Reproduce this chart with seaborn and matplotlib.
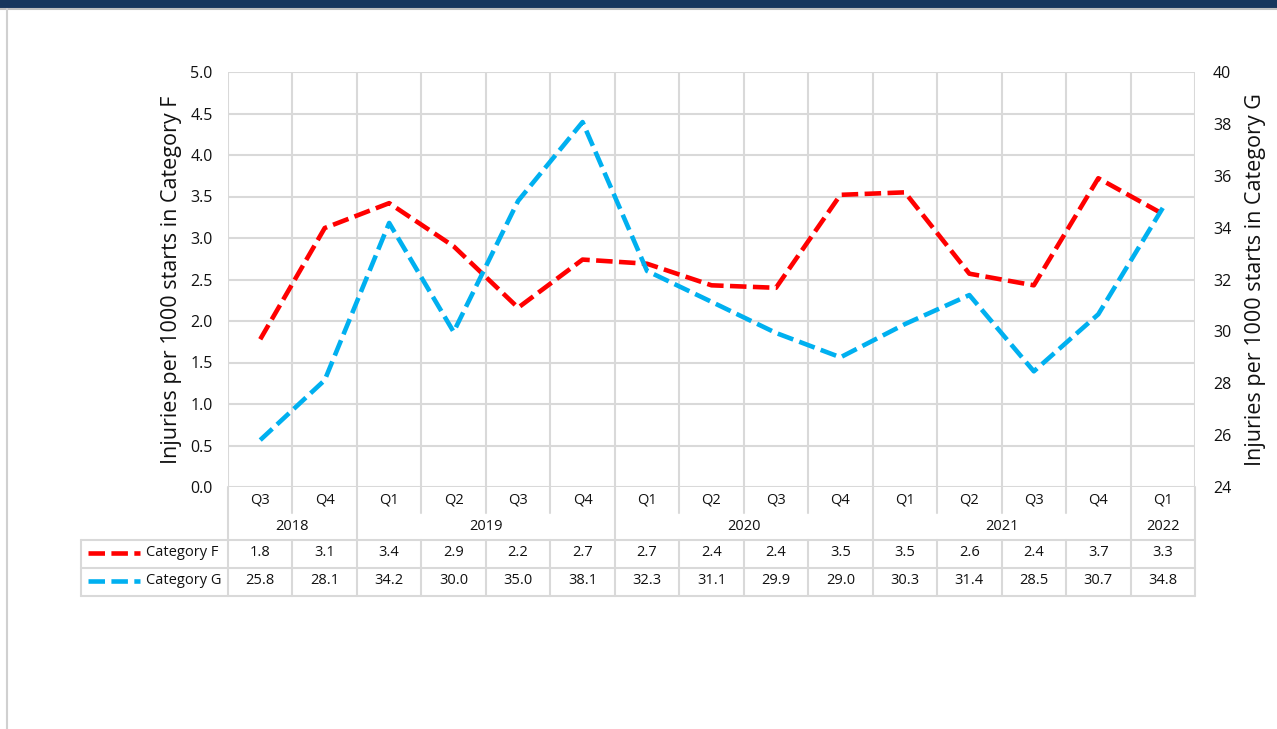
import numpy as np
import pandas as pd
import seaborn as sns
import matplotlib.pyplot as plt
from matplotlib.patches import Rectangle

# quarters / years along the x axis
quarters = ["Q3", "Q4", "Q1", "Q2", "Q3", "Q4", "Q1", "Q2", "Q3", "Q4", "Q1", "Q2", "Q3", "Q4", "Q1"]
years = ["2018", "2018", "2019", "2019", "2019", "2019", "2020", "2020", "2020", "2020",
         "2021", "2021", "2021", "2021", "2022"]

# injuries per 1000 starts
cat_f = [1.78, 3.12, 3.42, 2.90, 2.16, 2.74, 2.69, 2.43, 2.40, 3.52, 3.55, 2.57, 2.43, 3.72, 3.29]
cat_g = [25.81, 28.12, 34.18, 29.98, 35.03, 38.07, 32.33, 31.14, 29.94, 29.00, 30.28, 31.40, 28.46, 30.66, 34.76]

left_ticks = np.arange(0, 5.01, 0.5)
right_ticks = np.arange(24, 40.1, 2)

RED = "#FF0000"
BLUE = "#00B0F0"
GRID = "#D9D9D9"
TXT = "#111111"
DASH = (0, (3.6, 1.4))

sns.set_style("white")
plt.rcParams["font.family"] = ["Open Sans", "DejaVu Sans"]

W, H = 1277, 729
fig = plt.figure(figsize=(W / 100, H / 100), dpi=100)

df = pd.DataFrame({"pos": np.arange(len(quarters)), "F": cat_f, "G": cat_g})
n = len(quarters)

# plot area in pixels
px0, px1, py0, py1 = 228, 1195, 72, 487
ax = fig.add_axes([px0 / W, 1 - py1 / H, (px1 - px0) / W, (py1 - py0) / H])
ax2 = ax.twinx()

sns.lineplot(data=df, x="pos", y="F", ax=ax, color=RED, lw=3.3, linestyle=DASH,
             dash_capstyle="butt", zorder=3)
sns.lineplot(data=df, x="pos", y="G", ax=ax2, color=BLUE, lw=3.3, linestyle=DASH,
             dash_capstyle="butt", zorder=3)

ax.set_xlim(-0.5, n - 0.5)
ax.set_ylim(0, 5)
ax2.set_ylim(24, 40)
ax.set_yticks(left_ticks)
ax.set_yticklabels([f"{v:.1f}" for v in left_ticks], fontsize=11.5, color=TXT)
ax2.set_yticks(right_ticks)
ax2.set_yticklabels([f"{v:.0f}" for v in right_ticks], fontsize=11.5, color=TXT)
ax.set_xticks([])
ax.set_xlabel("")
ax2.set_xlabel("")
ax.set_ylabel("Injuries per 1000 starts in Category F", fontsize=15.5, labelpad=6, color=TXT)
ax2.set_ylabel("Injuries per 1000 starts in Category G", fontsize=15.5, labelpad=10, color=TXT)
ax.tick_params(axis="y", length=0, pad=11)
ax2.tick_params(axis="y", length=0, pad=13)

for v in left_ticks:
    ax.axhline(v, color=GRID, lw=1.5, zorder=0)
for i in range(n + 1):
    ax.axvline(i - 0.5, color=GRID, lw=1.5, zorder=0)
for a in (ax, ax2):
    for s in a.spines.values():
        s.set_visible(False)

# overlay in pixel coordinates for the data table and frame
ov = fig.add_axes([0, 0, 1, 1], zorder=-1)
ov.set_xlim(0, W)
ov.set_ylim(H, 0)
ov.axis("off")
ov.add_patch(Rectangle((0, 0), W, 8, color="#17365D", lw=0))
ov.plot([0, W], [9, 9], color="#BFBFBF", lw=1.5)
ov.plot([7, 7], [9, H], color="#D0D0D0", lw=1.5)

cw = (px1 - px0) / n
def cx(i):
    return px0 + cw * (i + 0.5)

q_bot, hdr_bot, row1, tbl_bot, tbl_left = 513, 540, 568, 596, 81
FS = 10.5

# quarter labels and short separators
for i, q in enumerate(quarters):
    ov.text(cx(i), 500, q, ha="center", va="center", fontsize=FS, color=TXT)
# year groups
starts = [i for i in range(n) if i == 0 or years[i] != years[i - 1]]
bounds = starts + [n]
for i in range(1, n):
    bottom = hdr_bot if i in starts else q_bot
    ov.plot([px0 + cw * i] * 2, [py1, bottom], color=GRID, lw=1.5)
for a, b in zip(bounds[:-1], bounds[1:]):
    ov.text(px0 + cw * (a + b) / 2, 526, years[a], ha="center", va="center",
            fontsize=FS, color=TXT)

# table frame
ov.plot([px0, px0], [py1, tbl_bot], color=GRID, lw=1.5)
ov.plot([px1, px1], [py1, tbl_bot], color=GRID, lw=1.5)
for y in (hdr_bot, row1, tbl_bot):
    ov.plot([tbl_left, px1], [y, y], color=GRID, lw=1.5)
ov.plot([tbl_left, tbl_left], [hdr_bot, tbl_bot], color=GRID, lw=1.5)
for i in range(1, n):
    ov.plot([px0 + cw * i] * 2, [hdr_bot, tbl_bot], color=GRID, lw=1.5)

rows = [("Category F", cat_f, RED, 553), ("Category G", cat_g, BLUE, 581)]
for name, vals, col, y in rows:
    ov.plot([88, 140], [y, y], color=col, lw=3.3, linestyle=DASH, dash_capstyle="butt")
    ov.text(146, y, name, ha="left", va="center", fontsize=FS, color=TXT)
    for i, v in enumerate(vals):
        ov.text(cx(i), y, f"{v:.1f}", ha="center", va="center", fontsize=FS, color=TXT)

fig.savefig("out.png", dpi=100)
